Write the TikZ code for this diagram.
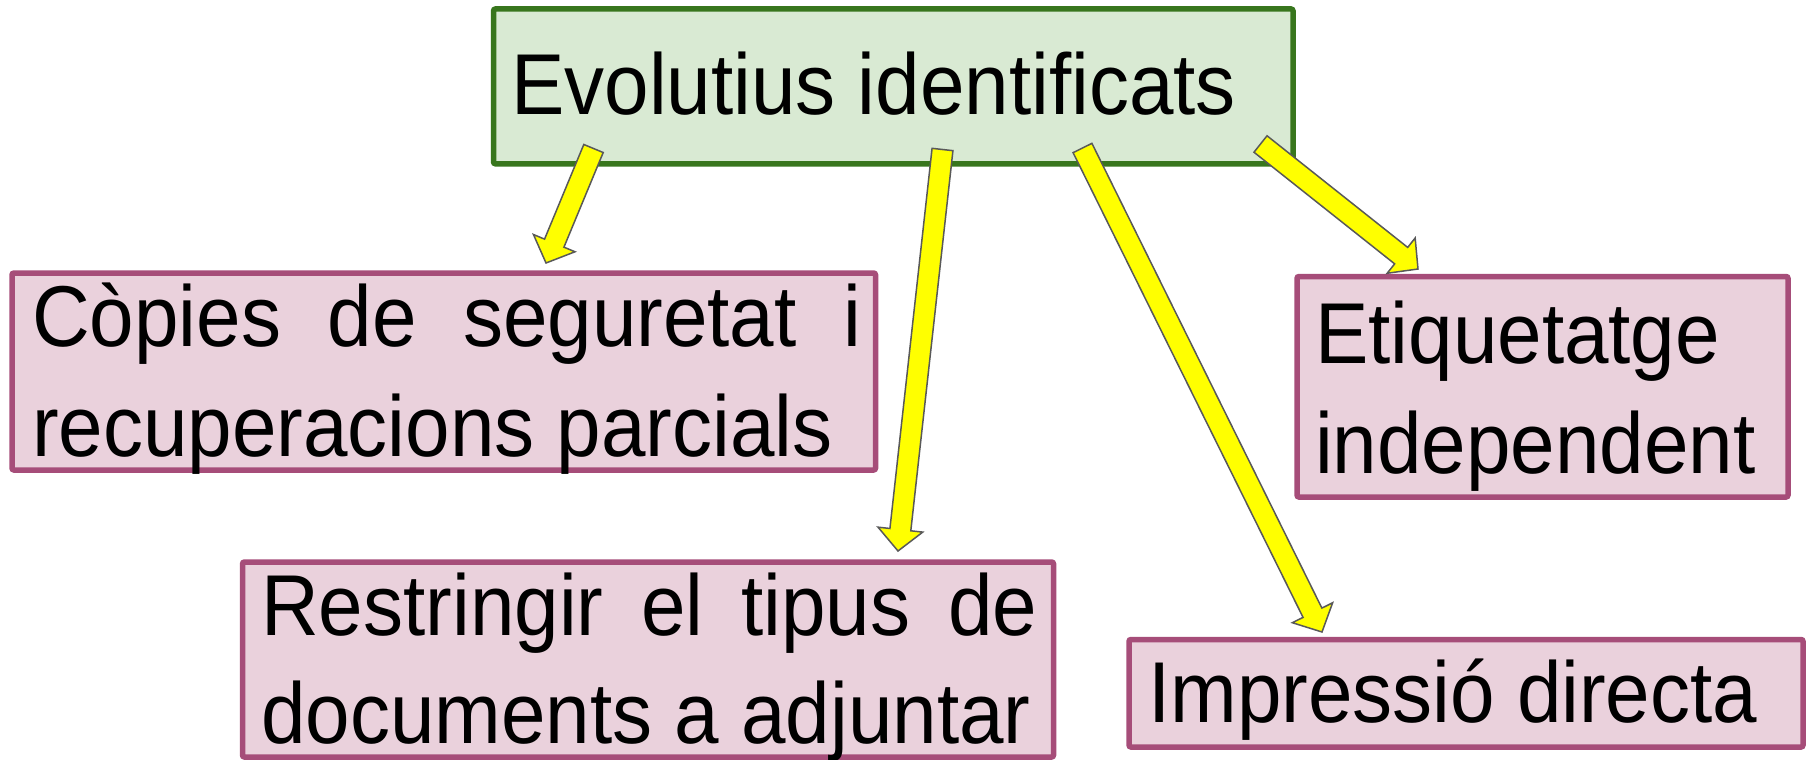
\documentclass[tikz,border=0pt]{standalone}
\usepackage{fontspec}
\setmainfont{Liberation Sans}
\usetikzlibrary{calc}
\definecolor{gfill}{HTML}{D9EAD3}
\definecolor{gline}{HTML}{38761D}
\definecolor{pfill}{HTML}{EAD1DC}
\definecolor{pline}{HTML}{A64D79}
\definecolor{aline}{HTML}{595959}
\definecolor{ayellow}{HTML}{FFFF00}
\tikzset{
  greenbox/.style={draw=gline, fill=gfill, line width=5.5pt, rounded corners=2pt, inner sep=0pt},
  pinkbox/.style={draw=pline, fill=pfill, line width=5.5pt, rounded corners=2pt, inner sep=0pt},
  lbl/.style={anchor=base west, inner sep=0pt, text=black, font=\fontsize{80}{96}\selectfont},
  yarrow/.style={draw=aline, fill=ayellow, line width=1.5pt, line join=miter}
}
\newcommand\tall[1]{\scalebox{1}[1.08]{#1}}
\newcommand\blkarrow[3]{%
  \coordinate (#1h) at ($(#3)!21.5pt!(#2)$);
  \draw[yarrow] ($(#2)!10.5pt!90:(#3)$) -- ($(#1h)!10.5pt!90:(#3)$) -- ($(#1h)!22.5pt!90:(#3)$)
    -- (#3) -- ($(#1h)!22.5pt!-90:(#3)$) -- ($(#1h)!10.5pt!-90:(#3)$) -- ($(#2)!10.5pt!-90:(#3)$) -- cycle;}
\begin{document}
\begin{tikzpicture}[x=1pt,y=-1pt]
\useasboundingbox (0,0) rectangle (1808,760);
% boxes
\node[greenbox, minimum width=799.5pt, minimum height=154.8pt] (top) at (893.25,86.4) {};
\node[pinkbox, minimum width=863.5pt, minimum height=197pt] (b1) at (443.75,371.5) {};
\node[pinkbox, minimum width=811pt, minimum height=195pt] (b2) at (648,659.5) {};
\node[pinkbox, minimum width=491pt, minimum height=220.5pt] (b3) at (1542.5,386.75) {};
\node[pinkbox, minimum width=674pt, minimum height=107.5pt] (b4) at (1466,693.25) {};
% texts
\node[lbl] (ttop) at (511,114) {\tall{Evolutius identificats}};
\node[lbl] (t1a) at (32,346) {\tall{\makebox[829pt][s]{Còpies de seguretat i}}};
\node[lbl] (t1b) at (32,456) {\tall{recuperacions parcials}};
\node[lbl] (t2a) at (261,635) {\tall{\makebox[776pt][s]{Restringir el tipus de}}};
\node[lbl] (t2b) at (261,743) {\tall{documents a adjuntar}};
\node[lbl] (t3a) at (1315,363) {\tall{Etiquetatge}};
\node[lbl] (t3b) at (1315,473) {\tall{independent}};
\node[lbl] (t4) at (1148,722) {\tall{Impressió directa}};
% arrow ends
\coordinate (s1) at (593.5,148.5); \coordinate (e1) at (546,263);
\coordinate (s2) at (942.5,149.5); \coordinate (e2) at (898,551);
\coordinate (s3) at (1082.5,148);  \coordinate (e3) at (1322,632);
\coordinate (s4) at (1260.5,144);  \coordinate (e4) at (1418,269);
\blkarrow{a1}{s1}{e1}
\blkarrow{a2}{s2}{e2}
\blkarrow{a3}{s3}{e3}
\blkarrow{a4}{s4}{e4}
\end{tikzpicture}
\end{document}
